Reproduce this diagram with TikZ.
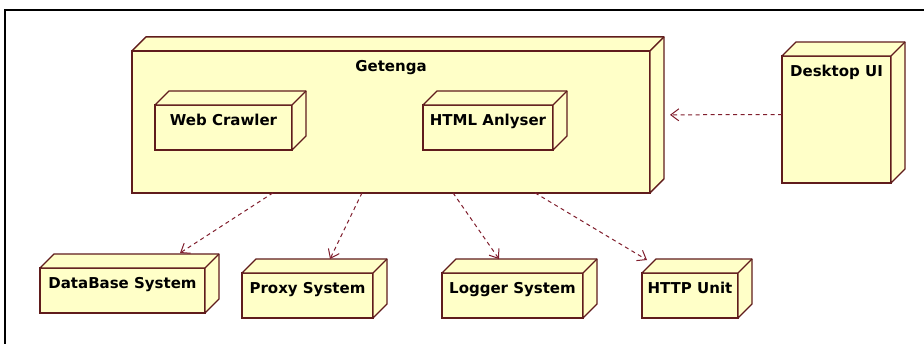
\documentclass[tikz,border=0pt]{standalone}
\usepackage{fontspec}
\setmainfont{DejaVu Sans}
\usetikzlibrary{arrows.meta}

\definecolor{nodefill}{RGB}{255,255,200}
\definecolor{nodeedge}{RGB}{96,28,28}
\definecolor{depline}{RGB}{128,30,45}

\newcommand\dd{14}
% side and top faces of a 3D deployment node
\newcommand\boxsides[1]{%
  \filldraw[faces] (#1.north west) -- ++(\dd,-\dd)
    -- ([shift={(\dd,-\dd)}]#1.north east)
    -- ([shift={(\dd,-\dd)}]#1.south east)
    -- (#1.south east) -- (#1.north east) -- cycle;
  \draw[faces] (#1.north east) -- ++(\dd,-\dd);}

\tikzset{
  faces/.style={draw=nodeedge, fill=nodefill, line width=1.3pt, line join=round},
  unode/.style={draw=nodeedge, fill=nodefill, line width=1.3pt, outer sep=0pt,
    rectangle, inner sep=0pt},
  ulabel/.style={font=\bfseries\fontsize{15}{18}\selectfont, anchor=base,
    yshift=-20.5pt, inner sep=0pt},
  dep/.style={draw=depline, line width=1pt, dash pattern=on 4pt off 3.5pt,
    -{Straight Barb[length=8pt,width=12pt,line width=1pt]}},
}

\begin{document}
\begin{tikzpicture}[x=1pt, y=-1pt]
\useasboundingbox (0,0) rectangle (924,343);
\fill[white] (0,0) rectangle (924,343);

% outer frame
\draw[black, line width=2pt] (5,360) -- (5,10) -- (940,10);

% Getenga and its parts
\node[unode, minimum width=518pt, minimum height=142pt,
  label={[ulabel, name=get-t]north:Getenga}] (get) at (391,121.85) {};
\boxsides{get}

\node[unode, minimum width=137pt, minimum height=45pt,
  label={[ulabel, name=wc-t]north:Web Crawler}] (wc) at (223.5,127.5) {};
\boxsides{wc}

\node[unode, minimum width=130pt, minimum height=45pt,
  label={[ulabel, name=html-t]north:HTML Anlyser}] (html) at (488,127.5) {};
\boxsides{html}

% Desktop UI
\node[unode, minimum width=109pt, minimum height=127pt,
  label={[ulabel, name=desk-t]north:Desktop UI}] (desk) at (836.5,119.5) {};
\boxsides{desk}

% lower row
\node[unode, minimum width=165pt, minimum height=45pt,
  label={[ulabel, name=db-t]north:DataBase System}] (db) at (122.5,290.5) {};
\boxsides{db}

\node[unode, minimum width=131pt, minimum height=45pt,
  label={[ulabel, name=proxy-t]north:Proxy System}] (proxy) at (307.5,295.5) {};
\boxsides{proxy}

\node[unode, minimum width=141pt, minimum height=45pt,
  label={[ulabel, name=log-t]north:Logger System}] (log) at (512.5,295.5) {};
\boxsides{log}

\node[unode, minimum width=96pt, minimum height=45pt,
  label={[ulabel, name=http-t]north:HTTP Unit}] (http) at (690,295.5) {};
\boxsides{http}

% dependency ends
\coordinate (g1) at ([xshift=141pt]get.south west);
\coordinate (g2) at ([xshift=230pt]get.south west);
\coordinate (g3) at ([xshift=321pt]get.south west);
\coordinate (g4) at ([xshift=403pt]get.south west);
\coordinate (dbin) at ([xshift=140pt,yshift=15pt]db.north west);
\coordinate (pxin) at ([xshift=88pt,yshift=14pt]proxy.north west);
\coordinate (lgin) at ([xshift=57pt,yshift=14pt]log.north west);
\coordinate (htin) at ([xshift=5pt,yshift=13pt]http.north west);
\coordinate (dkout) at ([yshift=5pt]desk.west);
\coordinate (gin) at ([xshift=20pt,yshift=7pt]get.east);

% dependencies
\draw[dep] (g1) -- (dbin);
\draw[dep] (g2) -- (pxin);
\draw[dep] (g3) -- (lgin);
\draw[dep] (g4) -- (htin);
\draw[dep] (dkout) -- (gin);
\end{tikzpicture}
\end{document}
